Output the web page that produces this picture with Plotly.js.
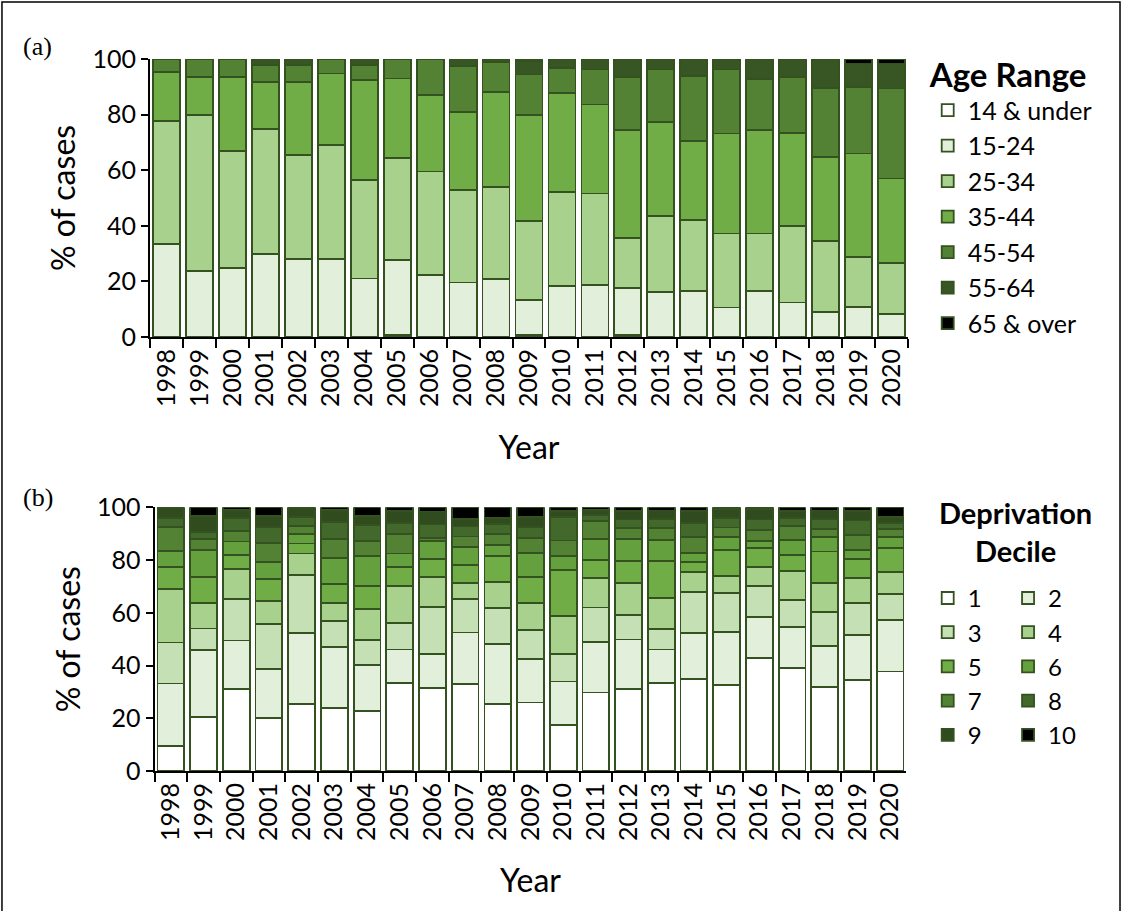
<!DOCTYPE html>
<html><head><meta charset="utf-8">
<script src="https://cdn.plot.ly/plotly-3.0.1.min.js"></script>
<style>html,body{margin:0;padding:0;background:#fff}#chart{width:1123px;height:911px}</style>
</head><body><div id="chart"></div>
<script>
const years = ['1998','1999','2000','2001','2002','2003','2004','2005','2006','2007','2008','2009','2010','2011','2012','2013','2014','2015','2016','2017','2018','2019','2020'];

// (a) Age range, % of cases
const ageNames = ['14 & under','15-24','25-34','35-44','45-54','55-64','65 & over'];
const age14under = [0,0,0,0,0,0,0,0.8,0,0,0,0.8,0,0,0.7,0,0,0,0,0,0,0,0];
const age15_24 = [33.4,23.8,24.7,29.8,28,28,21,26.8,22.2,19.6,20.8,12.6,18.4,18.7,16.8,16.3,16.6,10.6,16.6,12.4,9,10.8,8.4];
const age25_34 = [44.4,56,42.3,45,37.5,41,35.4,36.7,37.3,33.2,33.2,28.2,33.8,32.9,18,27.3,25.4,26.6,20.6,27.6,25.6,18,18.3];
const age35_44 = [17.6,13.8,26.6,16.8,26.1,25.8,36,28.7,27.5,28.2,34.2,38.3,35.7,32,39,33.6,28.6,36,37.2,33.3,30.2,37.2,30.3];
const age45_54 = [4.6,6.4,6.4,6.2,6.2,5.2,5.4,7,13,16.6,10.6,14.5,8.9,12.6,18.9,19,23.2,23,18.3,20.1,24.8,23.8,32.4];
const age55_64 = [0,0,0,2.2,2.2,0,2.2,0,0,2.4,1.2,5,3.2,3.8,6.6,3.8,6.2,3.8,7.3,6.6,10.4,8.6,9];
const age65over = [0,0,0,0,0,0,0,0,0,0,0,0.6,0,0,0,0,0,0,0,0,0,1.6,1.6];

// (b) Deprivation decile, % of cases
const decNames = ['1','2','3','4','5','6','7','8','9','10'];
const dec1 = [9.5,20.6,31.2,20,25.3,24,22.9,33.3,31.4,33.1,25.3,26,17.4,29.8,31,33.5,34.8,32.6,42.7,39.2,31.8,34.5,37.7];
const dec2 = [23.7,25.4,18.3,18.8,26.9,23.1,17.4,12.8,13.1,19.4,22.8,16.6,16.5,19,18.9,12.6,17.6,20.2,15.6,15.3,15.6,17.1,19.6];
const dec3 = [15.5,8,15.6,17,22.1,9.8,9.5,10.1,17.7,12.6,13.7,10.8,10.4,13.2,9.4,7.6,15.6,14.8,11.9,10.3,12.8,12.2,9.8];
const dec4 = [20.2,9.8,11.4,8.8,8.2,6.9,11.7,14,11.3,6.2,9.8,10.4,14.4,11.1,11.9,11.8,7.6,6.3,7.3,11.1,11,9.3,8.5];
const dec5 = [8.6,9.9,5.3,8.3,3.8,7,8.5,7.3,6.8,6.8,9.9,9.9,17.6,6.9,8.5,14.1,3.8,9.9,7,6,12,7.2,9.1];
const dec6 = [5.9,10.1,5.2,6.3,3.5,9.9,11.5,5,6.8,6.7,4.1,9.1,5.1,8.1,8.2,8,3.4,5,2.8,5.7,5.5,3.6,4.1];
const dec7 = [9,4.1,4,7.4,3.1,7.2,5.8,7.3,1.2,4.1,4.2,5.4,6,6.8,4.1,4.4,6,3.5,4.1,5.3,3,5.6,2.9];
const dec8 = [3.4,2.8,5,6,3.5,6.6,6,4.3,5.2,3.8,3.9,4.4,9,2.1,3.4,3.6,5.1,3.5,4,2.9,3.8,5.5,2.2];
const dec9 = [4.2,6,3,4.2,3.6,4.5,3.5,4.6,4.9,2.9,2.1,3.8,2.2,2,3.1,3.2,4.6,3.4,3.8,2.7,3.3,3.5,2.5];
const dec10 = [0,3.3,1,3.2,0,1,3.2,1.3,1.6,4.4,4.2,3.6,1.4,1,1.5,1.2,1.5,0.8,0.8,1.5,1.2,1.5,3.6];

const ageColors = ['#ffffff','#e2efda','#a9d18e','#70ad47','#548235','#375623','#000000'];
const decColors = ['#ffffff','#e2efda','#c5e0b4','#a9d18e','#70ad47','#64a03e','#548235','#43682b','#304c1f','#000000'];
const outline = '#34521f';

const ageSeries = [age14under,age15_24,age25_34,age35_44,age45_54,age55_64,age65over];
const decSeries = [dec1,dec2,dec3,dec4,dec5,dec6,dec7,dec8,dec9,dec10];

const traces = [];
ageSeries.forEach((vals,i)=>{
  traces.push({type:'bar', x:years, y:vals, name:ageNames[i], xaxis:'x', yaxis:'y',
    marker:{color:ageColors[i], line:{color:outline, width:1.8}}, legend:'legend', cliponaxis:false, hoverinfo:'name+y'});
});
decSeries.forEach((vals,i)=>{
  traces.push({type:'bar', x:years, y:vals, name:decNames[i], xaxis:'x2', yaxis:'y2',
    marker:{color:decColors[i], line:{color:outline, width:1.8}}, legend:(i%2===0?'legend2':'legend3'), cliponaxis:false, hoverinfo:'name+y'});
});

const xCommon = {type:'category', tickson:'boundaries', ticks:'outside', ticklen:9, tickwidth:2, tickcolor:'#000',
  showline:true, linewidth:2, linecolor:'#000', tickangle:-90, tickfont:{size:25}, range:[-0.5,22.5], showgrid:false, zeroline:false, fixedrange:true};
const yCommon = {range:[0,100], tickvals:[0,20,40,60,80,100], ticks:'outside', ticklen:7, tickwidth:2, tickcolor:'#000',
  showline:true, linewidth:2, linecolor:'#000', tickfont:{size:25}, showgrid:false, zeroline:false, fixedrange:true};

const legCommon = {xanchor:'left', yanchor:'top', traceorder:'normal', font:{size:25}, bgcolor:'rgba(0,0,0,0)', tracegroupgap:0, itemclick:false, itemdoubleclick:false};

const serif = '"Liberation Serif", "Times New Roman", serif';

const layout = {
  width:1123, height:911, barmode:'stack', bargap:0.18,
  margin:{l:150, r:215, t:59, b:140},
  paper_bgcolor:'#fff', plot_bgcolor:'#fff',
  font:{family:'Lato, "Open Sans", sans-serif', size:25, color:'#000'},
  xaxis:Object.assign({}, xCommon, {domain:[0,1], anchor:'y', title:{text:'Year', font:{size:32}, standoff:31}}),
  yaxis:Object.assign({}, yCommon, {domain:[0.6096,1], anchor:'x', title:{text:'% of cases', font:{size:32}, standoff:7}}),
  xaxis2:Object.assign({}, xCommon, {domain:[0.006,0.998], anchor:'y2', title:{text:'Year', font:{size:32}, standoff:30}}),
  yaxis2:Object.assign({}, yCommon, {domain:[0,0.3704], anchor:'x2', title:{text:'% of cases', font:{size:32}, standoff:7}}),
  legend:Object.assign({}, legCommon, {x:1.026, y:1.0205, title:{text:'<b>Age Range</b>', font:{size:33}}}),
  legend2:Object.assign({}, legCommon, {x:1.026, y:0.274, font:{size:24}}),
  legend3:Object.assign({}, legCommon, {x:1.132, y:0.274, font:{size:24}}),
  annotations:[
    {text:'(a)', xref:'paper', yref:'paper', x:-0.1478, y:1.0169, xanchor:'center', yanchor:'middle', showarrow:false, font:{family:serif, size:26}},
    {text:'(b)', xref:'paper', yref:'paper', x:-0.1478, y:0.3848, xanchor:'center', yanchor:'middle', showarrow:false, font:{family:serif, size:26}},
    {text:'<b>Deprivation<br>Decile</b>', xref:'paper', yref:'paper', x:1.1412, y:0.3367, xanchor:'center', yanchor:'middle', align:'center', showarrow:false, font:{size:29}}
  ],
  shapes:[
    {type:'rect', xref:'paper', yref:'paper', x0:-0.1953, x1:1.2797, y0:-0.21, y1:1.080, line:{color:'#000', width:1.5}, fillcolor:'rgba(0,0,0,0)'}
  ]
};

Plotly.newPlot('chart', traces, layout, {displayModeBar:false});
</script>
</body></html>
